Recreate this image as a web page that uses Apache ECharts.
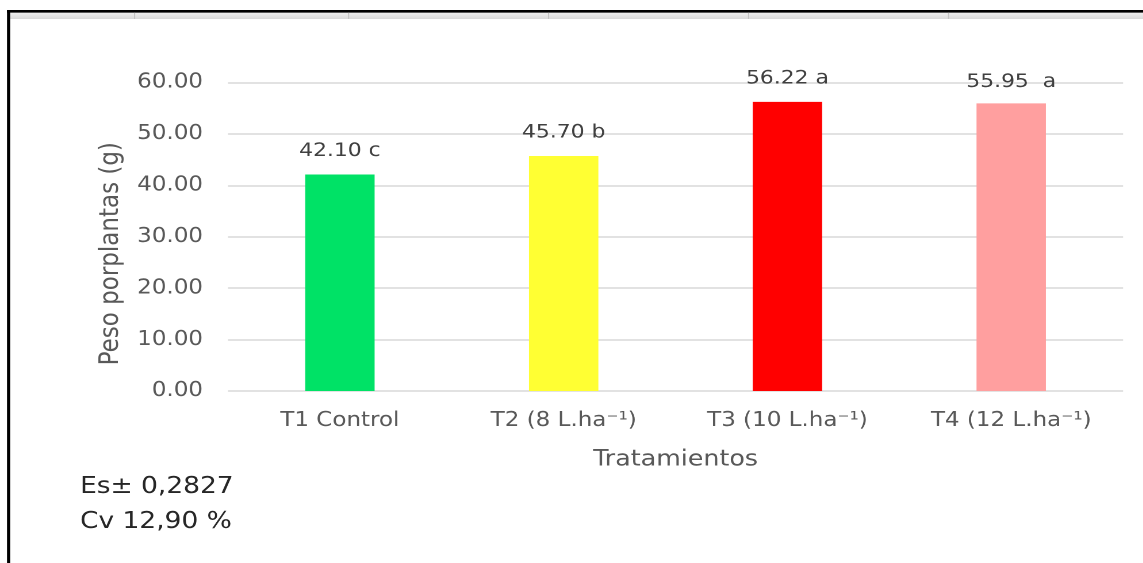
<!DOCTYPE html>
<html>
<head>
<meta charset="utf-8">
<script src="https://cdn.jsdelivr.net/npm/echarts@6/dist/echarts.min.js"></script>
<style>
  html, body { margin: 0; padding: 0; background: #ffffff; overflow: hidden; }
  #wrap { width: 1143px; height: 563px; overflow: hidden; position: relative; }
  /* chart is drawn narrower and widened horizontally */
  #chart { position: absolute; left: 0; top: 0; height: 563px; transform-origin: 0 0; }
</style>
</head>
<body>
<div id="wrap"><div id="chart"></div></div>
<script>
// ---- data ----
const categories = ['T1 Control', 'T2 (8 L.ha\u207B\u00B9)', 'T3 (10 L.ha\u207B\u00B9)', 'T4 (12 L.ha\u207B\u00B9)'];
const pesoValues = [42.10, 45.70, 56.22, 55.95];
const groupLetters = [' c', ' b', ' a', '  a'];
const barColors = ['#00E266', '#FFFF33', '#FF0000', '#FF9F9F'];
const yTicks = { min: 0, max: 60, interval: 10 };
const statNotes = ['Es\u00B1 0,2827', 'Cv 12,90 %'];
const yName = 'Peso porplantas (g)';
const xName = 'Tratamientos';

// ---- layout ----
const W = 1143, H = 563;
const SX = 1.15;                 // horizontal widening of the drawing
const CW = W / SX;               // chart width before widening
const px = v => v / SX;          // page x -> chart x

const el = document.getElementById('chart');
el.style.width = CW + 'px';
el.style.transform = 'scaleX(' + SX + ')';

const chart = echarts.init(el, null, { renderer: 'canvas', devicePixelRatio: 2 });

const font = '"DejaVu Sans", Verdana, sans-serif';
const gridLeft = px(228), gridRight = CW - px(1123);

// sheet-style frame above the chart
const frame = [
  { type: 'rect', shape: { x: px(9), y: 12.5, width: CW, height: 6.5 },
    style: { fill: new echarts.graphic.LinearGradient(0, 0, 0, 1, [
      { offset: 0, color: '#f0f0f0' }, { offset: 1, color: '#dadada' }]) }, silent: true },
  { type: 'rect', shape: { x: px(7), y: 10, width: CW, height: 2.6 }, style: { fill: '#000000' }, silent: true },
  { type: 'rect', shape: { x: px(7), y: 10, width: px(3.2), height: H }, style: { fill: '#000000' }, silent: true }
];
[134, 348, 548, 748, 948].forEach(x => {
  frame.push({ type: 'rect', shape: { x: px(x), y: 12.5, width: px(1.2), height: 6.5 },
    style: { fill: '#c4c4c4' }, silent: true });
});
statNotes.forEach((t, i) => {
  frame.push({ type: 'text', x: px(80), y: 487 + i * 35,
    style: { text: t, fill: '#262626', font: '23px ' + font, textVerticalAlign: 'middle' }, silent: true });
});

chart.setOption({
  animation: false,
  backgroundColor: '#ffffff',
  grid: { left: gridLeft, right: gridRight, top: 82.5, bottom: H - 391, containLabel: false },
  xAxis: {
    type: 'category',
    data: categories,
    name: xName,
    nameLocation: 'middle',
    nameGap: 58,
    nameTextStyle: { color: '#595959', fontSize: 22, fontFamily: font },
    axisLine: { show: false },
    axisTick: { show: false },
    axisLabel: { color: '#595959', fontSize: 20, fontFamily: font, margin: 20, interval: 0 }
  },
  yAxis: {
    type: 'value',
    min: yTicks.min, max: yTicks.max, interval: yTicks.interval,
    name: yName,
    nameLocation: 'middle',
    nameRotate: 90,
    nameGap: 90,
    nameTextStyle: { color: '#595959', fontSize: 23, fontFamily: font, padding: [0, 34, 0, 0] },
    axisLine: { show: false },
    axisTick: { show: false },
    axisLabel: { color: '#595959', fontSize: 20, fontFamily: font, margin: px(25),
      formatter: v => v.toFixed(2) },
    splitLine: { lineStyle: { color: '#d9d9d9', width: 1.5 } }
  },
  series: [{
    type: 'bar',
    barWidth: '31%',
    data: pesoValues.map((v, i) => ({
      value: v,
      itemStyle: { color: barColors[i] },
      label: { distance: i === 3 ? 12 : 14 }
    })),
    label: {
      show: true,
      position: 'top',
      color: '#404040',
      fontSize: 19,
      fontFamily: font,
      formatter: p => p.value.toFixed(2) + groupLetters[p.dataIndex]
    }
  }],
  graphic: frame
});
</script>
</body>
</html>
